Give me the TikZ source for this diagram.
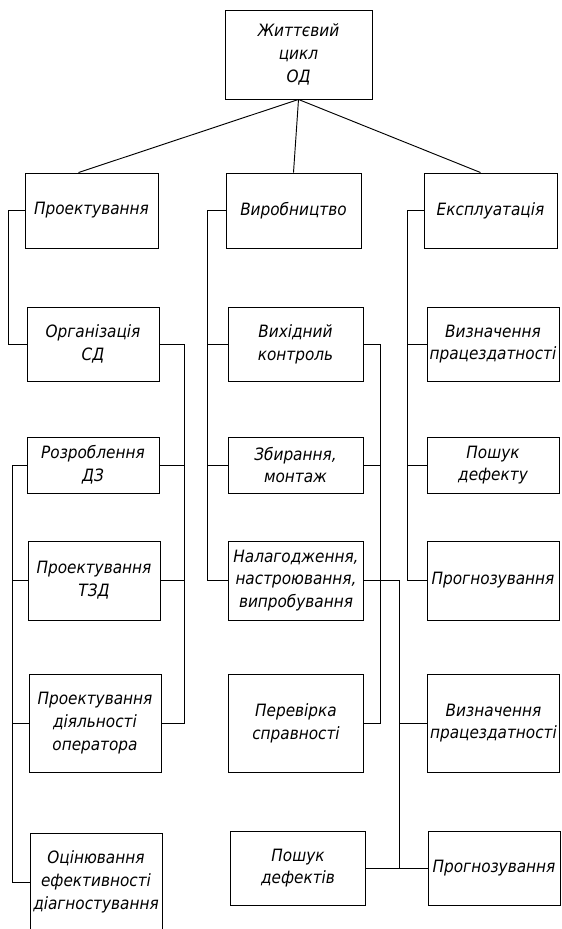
\documentclass[tikz,border=0pt]{standalone}
\usepackage{fontspec}
\setmainfont{DejaVu Sans Condensed}
\usetikzlibrary{positioning,calc}

\begin{document}
\begin{tikzpicture}[
  x=0.03cm,y=-0.03cm,
  stagebox/.style={rectangle,draw,line width=0.8pt,inner sep=0.5pt,align=center,minimum height=#1,font=\fontsize{14.5}{19.5}\selectfont\itshape},
  colL/.style={minimum width=3.96cm},
  colM/.style={minimum width=4.05cm},
  colR/.style={minimum width=3.96cm},
  link/.style={line width=0.8pt},
]
\useasboundingbox (0,0) rectangle (561,929);

% === root ===
\node[stagebox=2.67cm,minimum width=4.41cm] (life) at (298.5,54.5) {Життєвий\\цикл\\ОД};

% === stages ===
\node[stagebox=2.25cm,minimum width=3.99cm] (proj) at (91.5,210.5) {Проектування};
\node[stagebox=2.25cm,minimum width=4.05cm] (vyr)  at (293.5,210.5) {Виробництво};
\node[stagebox=2.25cm,minimum width=3.99cm] (eksp) at (490.5,210.5) {Експлуатація};

% === design column ===
\node[stagebox=2.22cm,colL] (org)  at (93,344)    {Організація\\СД};
\node[stagebox=1.68cm,colL] (rozr) at (93,465)    {Розроблення\\ДЗ};
\node[stagebox=2.37cm,colL] (tzd)  at (94,580.5)  {Проектування\\ТЗД};
\node[stagebox=2.94cm,colL] (opr)  at (95,723)    {Проектування\\діяльності\\оператора};
\node[stagebox=2.94cm,colL] (ocin) at (96,882)    {Оцінювання\\ефективності\\діагностування};

% === production column ===
\node[stagebox=2.22cm,colM] (vyh)    at (295.5,344)  {Вихідний\\контроль};
\node[stagebox=1.68cm,colM] (zbyr)   at (295.5,465)  {Збирання,\\монтаж};
\node[stagebox=2.37cm,colM] (nalag)  at (296,580.5)  {Налагодження,\\настроювання,\\випробування};
\node[stagebox=2.94cm,colM] (perev)  at (296,723)    {Перевірка\\справності};
\node[stagebox=2.22cm,colM] (poshuk) at (298,868)    {Пошук\\дефектів};

% === operation column ===
\node[stagebox=2.22cm,colR] (vyzn)   at (493,344)    {Визначення\\працездатності};
\node[stagebox=1.68cm,colR] (poshd)  at (493,465)    {Пошук\\дефекту};
\node[stagebox=2.37cm,colR] (progn)  at (493,580.5)  {Прогнозування};
\node[stagebox=2.94cm,colR] (vyzn2)  at (493.5,723)  {Визначення\\працездатності};
\node[stagebox=2.22cm,colR] (progn2) at (494,868)    {Прогнозування};

% bus lines
\coordinate (busLa) at (8,0);
\coordinate (busLb) at (184,0);
\coordinate (busLc) at (12,0);
\coordinate (busMa) at (207,0);
\coordinate (busMb) at (380,0);
\coordinate (busMc) at (399,0);
\coordinate (busRa) at (407,0);

% root to stages
\draw[link] (life.south) -- ($(proj.north)+(-13,0)$);
\draw[link] (life.south) -- (vyr.north);
\draw[link] (life.south) -- ($(eksp.north)+(-10,0)$);

% design
\draw[link] (proj.west) -| (busLa |- org.west) -- (org.west);
\draw[link] (org.east) -| (busLb |- opr.east) -- (opr.east);
\foreach \n in {rozr,tzd} \draw[link] (\n.east) -- (busLb |- \n.east);
\draw[link] (rozr.west) -| (busLc |- ocin.west) -- (ocin.west);
\foreach \n in {tzd,opr} \draw[link] (\n.west) -- (busLc |- \n.west);

% production
\draw[link] (vyr.west) -| (busMa |- nalag.west) -- (nalag.west);
\foreach \n in {vyh,zbyr} \draw[link] (\n.west) -- (busMa |- \n.west);
\draw[link] (vyh.east) -| (busMb |- perev.east) -- (perev.east);
\draw[link] (zbyr.east) -- (busMb |- zbyr.east);
\draw[link] (nalag.east) -| (busMc |- poshuk.east) -- (poshuk.east);
\foreach \n in {vyzn2,progn2} \draw[link] (\n.west) -- (busMc |- \n.west);

% operation
\draw[link] (eksp.west) -| (busRa |- progn.west) -- (progn.west);
\foreach \n in {vyzn,poshd} \draw[link] (\n.west) -- (busRa |- \n.west);

\end{tikzpicture}
\end{document}
